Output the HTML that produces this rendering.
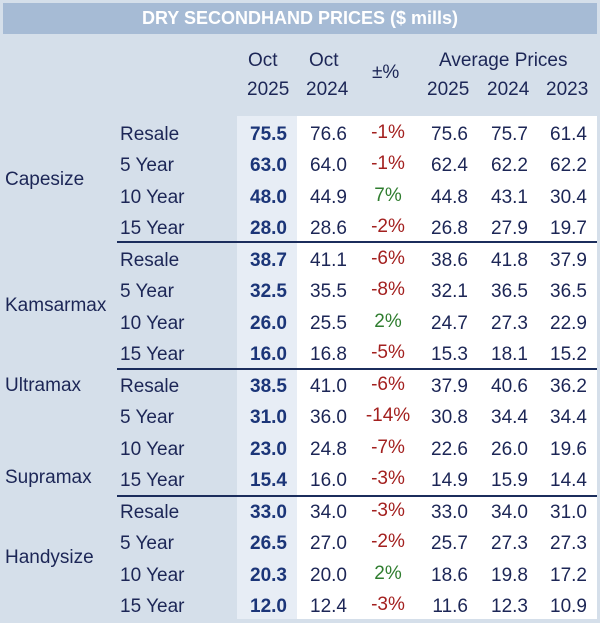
<!DOCTYPE html>
<html><head><meta charset="utf-8"><style>
body{margin:0;width:600px;height:623px;position:relative;background:#d5dfea;font-family:"Liberation Sans",sans-serif;color:#1c2656;overflow:hidden}
.title{position:absolute;left:3px;top:3px;width:594px;height:31px;background:#a6bbd5;color:#fff;font-weight:bold;font-size:18px;line-height:31px;text-align:center}
.white{position:absolute;left:237px;top:116px;width:360px;height:503px;background:#fff}
.hl{position:absolute;left:237px;top:116px;width:60px;height:503px;background:#e7edf5}
.h{position:absolute;font-size:19px;line-height:22px}
.r{position:absolute;left:0;width:600px;height:31px;font-size:19px;line-height:31px}
.r span{position:absolute;top:0}
.l{left:120px}
.a{right:313px;font-weight:bold;color:#1b3578}
.b{right:253px}
.p{left:358px;width:60px;text-align:center;top:-2px!important}
.d{right:132px}.e{right:72px}.f{right:13px}
.red{color:#a3201f}.grn{color:#2f7d2f}
.cat{position:absolute;left:5px;font-size:19px;line-height:22px}
.sep{position:absolute;left:117px;width:480px;height:2px;background:#1b2d5c}
</style></head><body>
<div class="title">DRY SECONDHAND PRICES ($ mills)</div>
<div class="white"></div><div class="hl"></div>
<div class="h" style="left:248px;top:50px">Oct</div>
<div class="h" style="left:247px;top:79px">2025</div>
<div class="h" style="left:309px;top:50px">Oct</div>
<div class="h" style="left:306px;top:79px">2024</div>
<div class="h" style="left:372px;top:62px">±%</div>
<div class="h" style="left:439px;top:50px">Average Prices</div>
<div class="h" style="left:427px;top:79px">2025</div>
<div class="h" style="left:487px;top:79px">2024</div>
<div class="h" style="left:546px;top:79px">2023</div>

<div class="cat" style="top:169px">Capesize</div>
<div class="cat" style="top:295px">Kamsarmax</div>
<div class="cat" style="top:375px">Ultramax</div>
<div class="cat" style="top:467px">Supramax</div>
<div class="cat" style="top:547px">Handysize</div>

<div class="sep" style="top:241px"></div>
<div class="sep" style="top:368px"></div>
<div class="sep" style="top:495px"></div>

<div class="r" style="top:119px"><span class="l">Resale</span><span class="a">75.5</span><span class="b">76.6</span><span class="p red">-1%</span><span class="d">75.6</span><span class="e">75.7</span><span class="f">61.4</span></div>
<div class="r" style="top:150px"><span class="l">5 Year</span><span class="a">63.0</span><span class="b">64.0</span><span class="p red">-1%</span><span class="d">62.4</span><span class="e">62.2</span><span class="f">62.2</span></div>
<div class="r" style="top:182px"><span class="l">10 Year</span><span class="a">48.0</span><span class="b">44.9</span><span class="p grn">7%</span><span class="d">44.8</span><span class="e">43.1</span><span class="f">30.4</span></div>
<div class="r" style="top:213px"><span class="l">15 Year</span><span class="a">28.0</span><span class="b">28.6</span><span class="p red">-2%</span><span class="d">26.8</span><span class="e">27.9</span><span class="f">19.7</span></div>
<div class="r" style="top:245px"><span class="l">Resale</span><span class="a">38.7</span><span class="b">41.1</span><span class="p red">-6%</span><span class="d">38.6</span><span class="e">41.8</span><span class="f">37.9</span></div>
<div class="r" style="top:276px"><span class="l">5 Year</span><span class="a">32.5</span><span class="b">35.5</span><span class="p red">-8%</span><span class="d">32.1</span><span class="e">36.5</span><span class="f">36.5</span></div>
<div class="r" style="top:308px"><span class="l">10 Year</span><span class="a">26.0</span><span class="b">25.5</span><span class="p grn">2%</span><span class="d">24.7</span><span class="e">27.3</span><span class="f">22.9</span></div>
<div class="r" style="top:339px"><span class="l">15 Year</span><span class="a">16.0</span><span class="b">16.8</span><span class="p red">-5%</span><span class="d">15.3</span><span class="e">18.1</span><span class="f">15.2</span></div>
<div class="r" style="top:371px"><span class="l">Resale</span><span class="a">38.5</span><span class="b">41.0</span><span class="p red">-6%</span><span class="d">37.9</span><span class="e">40.6</span><span class="f">36.2</span></div>
<div class="r" style="top:402px"><span class="l">5 Year</span><span class="a">31.0</span><span class="b">36.0</span><span class="p red">-14%</span><span class="d">30.8</span><span class="e">34.4</span><span class="f">34.4</span></div>
<div class="r" style="top:434px"><span class="l">10 Year</span><span class="a">23.0</span><span class="b">24.8</span><span class="p red">-7%</span><span class="d">22.6</span><span class="e">26.0</span><span class="f">19.6</span></div>
<div class="r" style="top:465px"><span class="l">15 Year</span><span class="a">15.4</span><span class="b">16.0</span><span class="p red">-3%</span><span class="d">14.9</span><span class="e">15.9</span><span class="f">14.4</span></div>
<div class="r" style="top:497px"><span class="l">Resale</span><span class="a">33.0</span><span class="b">34.0</span><span class="p red">-3%</span><span class="d">33.0</span><span class="e">34.0</span><span class="f">31.0</span></div>
<div class="r" style="top:528px"><span class="l">5 Year</span><span class="a">26.5</span><span class="b">27.0</span><span class="p red">-2%</span><span class="d">25.7</span><span class="e">27.3</span><span class="f">27.3</span></div>
<div class="r" style="top:560px"><span class="l">10 Year</span><span class="a">20.3</span><span class="b">20.0</span><span class="p grn">2%</span><span class="d">18.6</span><span class="e">19.8</span><span class="f">17.2</span></div>
<div class="r" style="top:591px"><span class="l">15 Year</span><span class="a">12.0</span><span class="b">12.4</span><span class="p red">-3%</span><span class="d">11.6</span><span class="e">12.3</span><span class="f">10.9</span></div>
</body></html>
